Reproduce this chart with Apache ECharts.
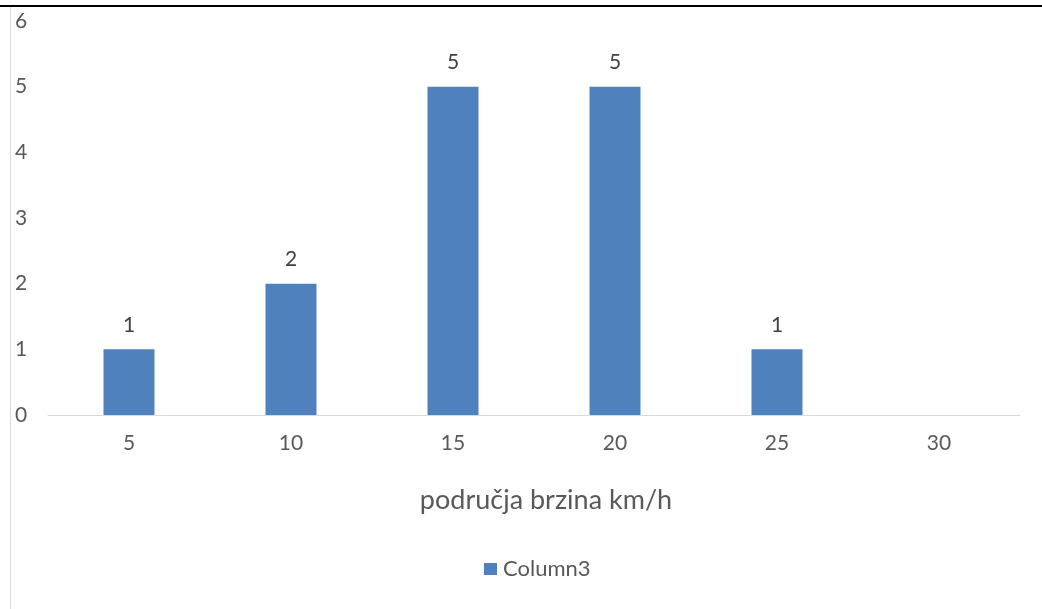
<!DOCTYPE html>
<html>
<head>
<meta charset="utf-8">
<script src="https://cdn.jsdelivr.net/npm/echarts@6/dist/echarts.min.js"></script>
<style>
  html, body { margin: 0; padding: 0; background: #fff; }
  #chart { width: 1042px; height: 609px; }
</style>
</head>
<body>
<div id="chart"></div>
<script>
// podaci
const categories = ["5", "10", "15", "20", "25", "30"];
const column3 = [1, 2, 5, 5, 1, null];
const seriesName = "Column3";
const xTitle = "područja brzina km/h";

const chart = echarts.init(document.getElementById("chart"));
const textColor = "#595959";
const fontFamily = "Lato, 'Open Sans', sans-serif";

chart.setOption({
  animation: false,
  textStyle: { fontFamily: fontFamily },
  grid: { left: 48, right: 22, top: 21, bottom: 194 },
  graphic: [
    // okvir: crna linija gore, siva lijevo
    { type: "rect", shape: { x: 0, y: 5, width: 1042, height: 2 }, style: { fill: "#000" } },
    { type: "rect", shape: { x: 10, y: 7, width: 1, height: 602 }, style: { fill: "#d9d9d9" } }
  ],
  legend: {
    bottom: 24,
    left: 479,
    itemWidth: 13,
    itemHeight: 12,
    icon: "rect",
    textStyle: { color: textColor, fontSize: 22, fontFamily: fontFamily, padding: [0, 0, 0, 1] },
    data: [seriesName]
  },
  xAxis: {
    type: "category",
    data: categories,
    name: xTitle,
    nameLocation: "middle",
    nameGap: 72,
    nameTextStyle: { color: textColor, fontSize: 27, fontFamily: fontFamily, padding: [0, 0, 0, 24] },
    axisTick: { show: false },
    axisLine: { lineStyle: { color: "#d9d9d9", width: 1 } },
    axisLabel: { color: textColor, fontSize: 21, margin: 18 }
  },
  yAxis: {
    type: "value",
    min: 0,
    max: 6,
    interval: 1,
    splitLine: { show: false },
    axisLine: { show: false },
    axisTick: { show: false },
    axisLabel: { color: textColor, fontSize: 21, align: "left", margin: 33 }
  },
  series: [
    {
      name: seriesName,
      type: "bar",
      data: column3,
      barWidth: 51,
      itemStyle: { color: "#4f81bd" },
      label: {
        show: true,
        position: "top",
        distance: 14,
        color: "#404040",
        fontSize: 21
      }
    }
  ]
});
</script>
</body>
</html>
